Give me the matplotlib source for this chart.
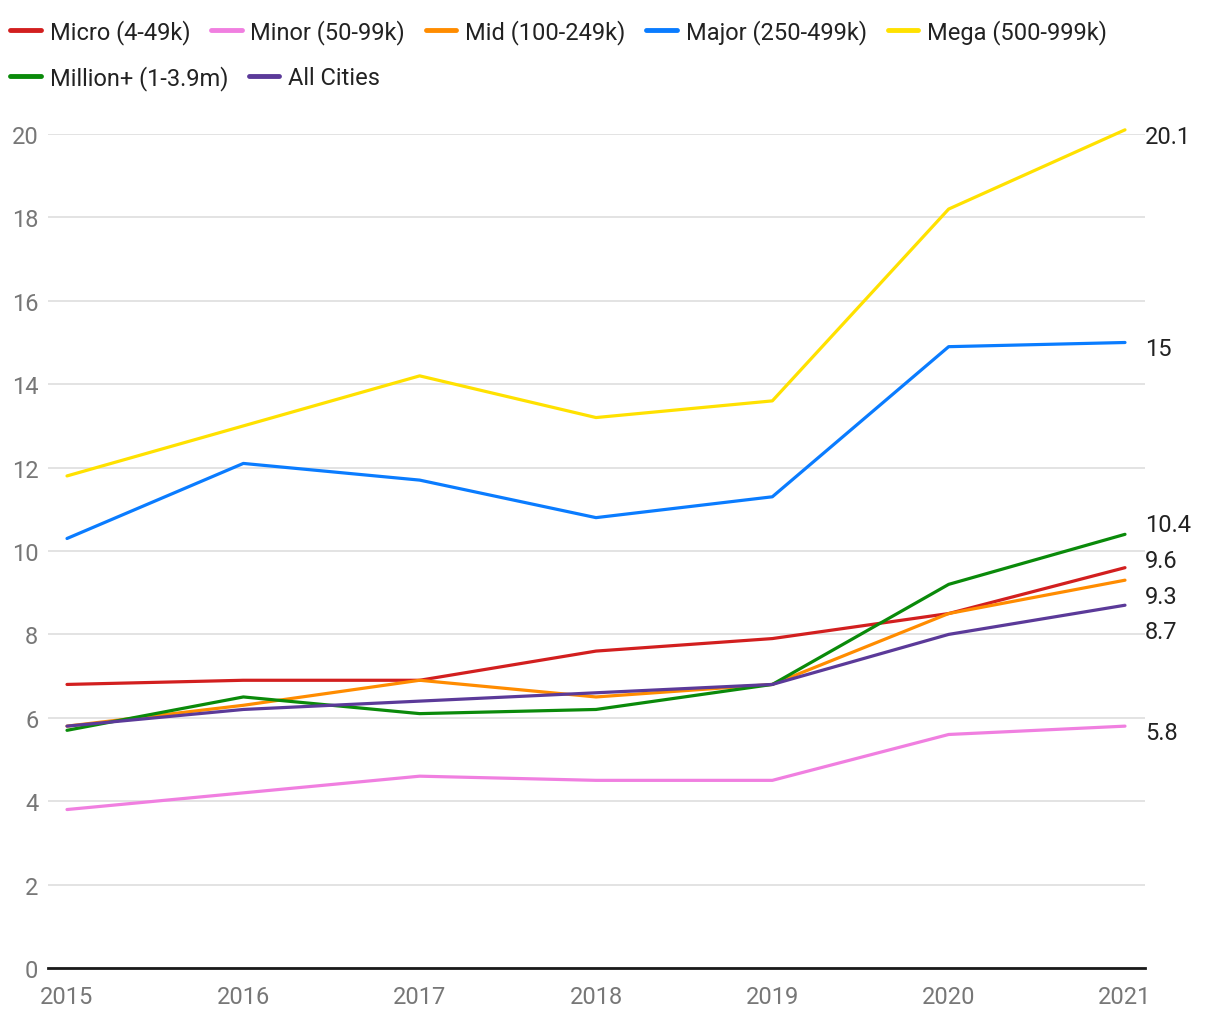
import matplotlib
matplotlib.use("Agg")
import matplotlib.pyplot as plt

plt.rcParams['font.family'] = ['Roboto', 'DejaVu Sans']

years = [2015, 2016, 2017, 2018, 2019, 2020, 2021]

micro = [6.8, 6.9, 6.9, 7.6, 7.9, 8.5, 9.6]
minor = [3.8, 4.2, 4.6, 4.5, 4.5, 5.6, 5.8]
mid = [5.8, 6.3, 6.9, 6.5, 6.8, 8.5, 9.3]
major = [10.3, 12.1, 11.7, 10.8, 11.3, 14.9, 15.0]
mega = [11.8, 13.0, 14.2, 13.2, 13.6, 18.2, 20.1]
million = [5.7, 6.5, 6.1, 6.2, 6.8, 9.2, 10.4]
all_cities = [5.8, 6.2, 6.4, 6.6, 6.8, 8.0, 8.7]

names = ["Micro (4-49k)", "Minor (50-99k)", "Mid (100-249k)", "Major (250-499k)",
         "Mega (500-999k)", "Million+ (1-3.9m)", "All Cities"]
series = [micro, minor, mid, major, mega, million, all_cities]
colors = ["#d21f1f", "#f07fe0", "#ff8c00", "#0a7cff", "#ffe100", "#0a8a0a", "#5b3a99"]
end_labels = ["9.6", "5.8", "9.3", "15", "20.1", "10.4", "8.7"]

FS = 17

fig = plt.figure(figsize=(12.2, 10.2), dpi=100)
ax = fig.add_axes([48/1220, 1 - 969/1020, (1145-48)/1220, (969-135)/1020])

handles = []
for vals, name, c in zip(series, names, colors):
    h, = ax.plot(years, vals, color=c, lw=2.3, label=name, clip_on=False,
                 solid_capstyle='round')
    handles.append(h)

ax.set_xlim(2015 - 19/176.3, 2021 + 20/176.3)
ax.set_ylim(0, 20)
ax.set_yticks(range(0, 21, 2))
ax.set_xticks(years)
ax.grid(axis='y', color='#e0e0e0', lw=1.3)
ax.set_axisbelow(True)
for s in ['top', 'right', 'left']:
    ax.spines[s].set_visible(False)
ax.spines['bottom'].set_linewidth(2)
ax.spines['bottom'].set_color('#1a1a1a')
ax.spines['bottom'].set_zorder(5)
ax.tick_params(axis='both', length=0, labelsize=FS, labelcolor='#777777')
ax.tick_params(axis='y', pad=7)
ax.tick_params(axis='x', pad=12)

# spread the end labels so they don't overlap
ends = [v[-1] for v in series]
gap = 0.86
order = sorted(range(len(ends)), key=lambda i: -ends[i])
pos = {i: ends[i] for i in order}
for _ in range(50):
    moved = False
    for a, b in zip(order, order[1:]):
        if pos[a] - pos[b] < gap:
            d = (gap - (pos[a] - pos[b])) / 2
            pos[a] += d
            pos[b] -= d
            moved = True
    if not moved:
        break

for i in order:
    ax.annotate(end_labels[i], xy=(years[-1], pos[i]), xytext=(14.5, -4.5),
                textcoords='offset points', va='center', ha='left',
                fontsize=FS, color='#222222', annotation_clip=False)

leg_kw = dict(frameon=False, fontsize=FS, handlelength=1.3, handletextpad=0.38,
              columnspacing=0.87, borderpad=0, borderaxespad=0, loc='upper left')
leg1 = fig.legend(handles=handles[:5], ncol=5, bbox_to_anchor=(10/1220, 1 - 20/1020), **leg_kw)
leg2 = fig.legend(handles=handles[5:], ncol=2, bbox_to_anchor=(10/1220, 1 - 66/1020), **leg_kw)
for leg in (leg1, leg2):
    for t in leg.get_texts():
        t.set_color('#222222')
    for l in leg.get_lines():
        l.set_linewidth(3.5)

fig.savefig("out.png", dpi=100)
